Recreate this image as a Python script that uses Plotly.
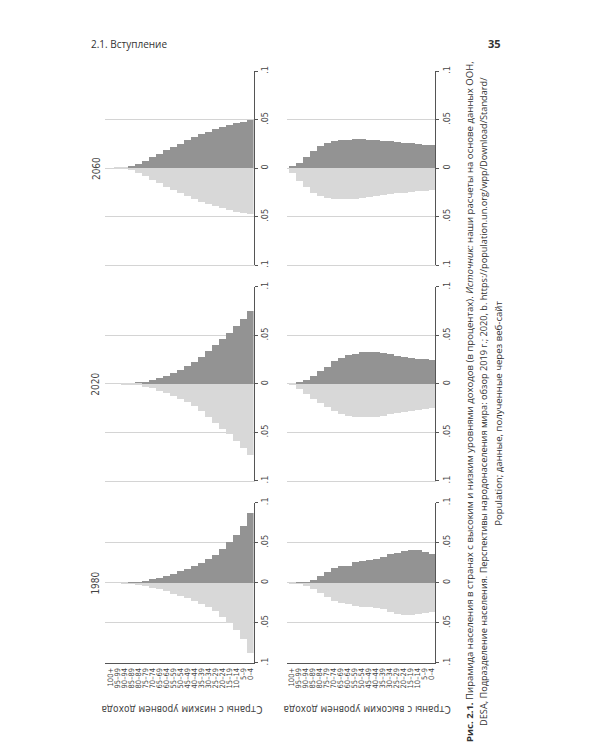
import plotly.graph_objects as go

W, H = 600, 750

# ---------------- data ----------------
ages = ["0–4", "5–9", "10–14", "15–19", "20–24", "25–29", "30–34", "35–39",
        "40–44", "45–49", "50–54", "55–59", "60–64", "65–69", "70–74",
        "75–79", "80–84", "85–89", "90–94", "95–99", "100+"]
years = ["1980", "2020", "2060"]
groups = ["Страны с низким уровнем дохода", "Страны с высоким уровнем дохода"]
share_ticks = [-0.1, -0.05, 0, 0.05, 0.1]
share_labels = [".1", ".05", "0", ".05", ".1"]

# dark series (drawn upward) and light series (drawn downward), share of population
low_1980_dark = [.088, .071, .060, .051, .042, .035, .030, .025, .022, .018, .015,
                 .012, .0095, .007, .0048, .003, .0015, .0005, .0001, 0, 0]
low_1980_light = [.087, .070, .059, .050, .042, .035, .030, .026, .022, .019, .016,
                  .013, .010, .0078, .0055, .0035, .0018, .0006, .0001, 0, 0]
low_2020_dark = [.075, .067, .060, .053, .046, .040, .034, .028, .023, .019, .0146,
                 .011, .008, .006, .0037, .0024, .001, .0003, .0001, 0, 0]
low_2020_light = [.073, .066, .059, .052, .046, .040, .034, .028, .023, .019, .015,
                  .012, .009, .0068, .0045, .003, .0014, .0005, .0001, 0, 0]
low_2060_dark = [.049, .0475, .046, .044, .042, .040, .037, .035, .0315, .029, .025,
                 .022, .019, .0146, .011, .007, .004, .0017, .0005, .0001, 0]
low_2060_light = [.047, .046, .045, .043, .041, .039, .037, .035, .032, .029, .026,
                  .023, .020, .016, .012, .0085, .005, .0025, .0008, .0002, 0]

high_1980_dark = [.036, .039, .041, .041, .040, .038, .036, .033, .030, .029, .028,
                  .026, .022, .021, .019, .014, .0085, .004, .0012, .0002, 0]
high_1980_light = [.0355, .037, .039, .040, .040, .039, .036, .032, .031, .030, .030,
                   .028, .026, .025, .022, .017, .012, .007, .003, .0008, .0001]
high_2020_dark = [.025, .0255, .026, .027, .028, .029, .031, .032, .0325, .0325, .0325,
                  .031, .030, .027, .024, .018, .013, .008, .004, .0015, .0003]
high_2020_light = [.025, .026, .027, .028, .029, .030, .031, .033, .034, .0345, .0345,
                   .034, .033, .031, .028, .024, .020, .015, .010, .005, .0015]
high_2060_dark = [.0235, .024, .025, .0255, .026, .027, .0275, .028, .0285, .029, .0295,
                  .0295, .029, .029, .028, .026, .023, .018, .011, .005, .0015]
high_2060_light = [.023, .0235, .024, .025, .0255, .026, .027, .028, .029, .030, .031,
                   .032, .032, .032, .032, .031, .029, .026, .020, .013, .005]

panels = [
    ("low", "1980", low_1980_dark, low_1980_light),
    ("low", "2020", low_2020_dark, low_2020_light),
    ("low", "2060", low_2060_dark, low_2060_light),
    ("high", "1980", high_1980_dark, high_1980_light),
    ("high", "2020", high_2020_dark, high_2020_light),
    ("high", "2060", high_2060_dark, high_2060_light),
]

# ---------------- layout geometry (page pixels) ----------------
col_x = {"low": (105, 254), "high": (287, 436)}
row_y = {"1980": (503, 665), "2020": (285, 481), "2060": (67, 263)}

DARK = "#939393"
LIGHT = "#d8d8d8"
GRID = "#d4d4d4"
AXIS = "#555555"
STATA_FONT = "Liberation Sans Narrow, Arial Narrow, DejaVu Sans Condensed, Liberation Sans, Arial"
PAGE_FONT = "Open Sans, Noto Sans, sans-serif"


def px_x(v):
    return v / W


def px_y(v):
    return 1 - v / H


fig = go.Figure()
layout = {}
for k, (grp, yr, dvals, lvals) in enumerate(panels, start=1):
    xa = "x" if k == 1 else f"x{k}"
    ya = "y" if k == 1 else f"y{k}"
    fig.add_trace(go.Bar(x=ages, y=dvals, xaxis=xa, yaxis=ya,
                         marker=dict(color=DARK, line=dict(width=0)),
                         showlegend=False, hoverinfo="skip"))
    fig.add_trace(go.Bar(x=ages, y=[-v for v in lvals], xaxis=xa, yaxis=ya,
                         marker=dict(color=LIGHT, line=dict(width=0)),
                         showlegend=False, hoverinfo="skip"))
    x0, x1 = col_x[grp]
    y0, y1 = row_y[yr]
    first = yr == "1980"
    layout["xaxis" if k == 1 else f"xaxis{k}"] = dict(
        domain=[px_x(x0), px_x(x1)], anchor=ya, type="category",
        categoryorder="array", categoryarray=ages[::-1],
        tickmode="array", tickvals=ages, ticktext=ages,
        range=[-0.75, 20.5], showgrid=False, zeroline=False,
        showline=True, linecolor=AXIS if first else GRID, linewidth=1,
        ticks="", showticklabels=first, tickangle=-90,
        tickfont=dict(family=STATA_FONT, size=7.5, color="#444"),
        ticklabelstandoff=1,
    )
    layout["yaxis" if k == 1 else f"yaxis{k}"] = dict(
        domain=[px_y(y1), px_y(y0)], anchor=xa, side="right",
        range=[-0.1, 0.1], tickvals=share_ticks, ticktext=share_labels,
        tickangle=-90, ticks="outside", ticklen=3, tickcolor=AXIS,
        showline=True, linecolor=AXIS, linewidth=1,
        showgrid=True, gridcolor=GRID, gridwidth=1, zeroline=False,
        tickfont=dict(family=STATA_FONT, size=9, color="#444"),
    )

annotations = []
# year titles
for yr in years:
    y0, y1 = row_y[yr]
    annotations.append(dict(x=px_x(96), y=px_y((y0 + y1) / 2), xref="paper", yref="paper",
                            text=yr, showarrow=False, textangle=-90,
                            xanchor="center", yanchor="middle",
                            font=dict(family=STATA_FONT, size=10, color="#444")))
# row titles (upside down)
for grp, cx, txt in (("low", 182, groups[0]), ("high", 368, groups[1])):
    annotations.append(dict(x=px_x(cx), y=px_y(712), xref="paper", yref="paper",
                            text=txt, showarrow=False, textangle=180,
                            xanchor="center", yanchor="middle",
                            font=dict(family=STATA_FONT, size=10, color="#444")))
# page header
annotations.append(dict(x=px_x(89), y=px_y(39), xref="paper", yref="paper",
                        text="2.1. Вступление", showarrow=False,
                        xanchor="left", yanchor="middle",
                        font=dict(family=PAGE_FONT, size=10, color="#333")))
annotations.append(dict(x=px_x(495.5), y=px_y(39), xref="paper", yref="paper",
                        text="<b>35</b>", showarrow=False,
                        xanchor="center", yanchor="middle",
                        font=dict(family=PAGE_FONT, size=11, color="#333")))
# caption (rotated)
cap1 = ("<b>Рис. 2.1.</b> Пирамида населения в странах с высоким и низким уровнями доходов "
        "(в процентах). <i>Источник:</i> наши расчеты на основе данных ООН,")
cap2 = ("DESA, Подразделение населения. Перспективы народонаселения мира: обзор 2019 г.; "
        "2020, b. https://population.un.org/wpp/Download/Standard/")
cap3 = "Population; данные, полученные через веб-сайт"
for cx, cy, txt, fs in ((471, 401, cap1, 9.6), (485, 401, cap2, 9.2), (499, 413, cap3, 9.6)):
    annotations.append(dict(x=px_x(cx), y=px_y(cy), xref="paper", yref="paper",
                            text=txt, showarrow=False, textangle=-90,
                            xanchor="center", yanchor="middle",
                            font=dict(family=PAGE_FONT, size=fs, color="#333")))

fig.update_layout(
    width=W, height=H, margin=dict(l=0, r=0, t=0, b=0),
    paper_bgcolor="white", plot_bgcolor="white",
    barmode="overlay", bargap=0,
    annotations=annotations,
    **layout,
)

fig.write_html("out.html")
